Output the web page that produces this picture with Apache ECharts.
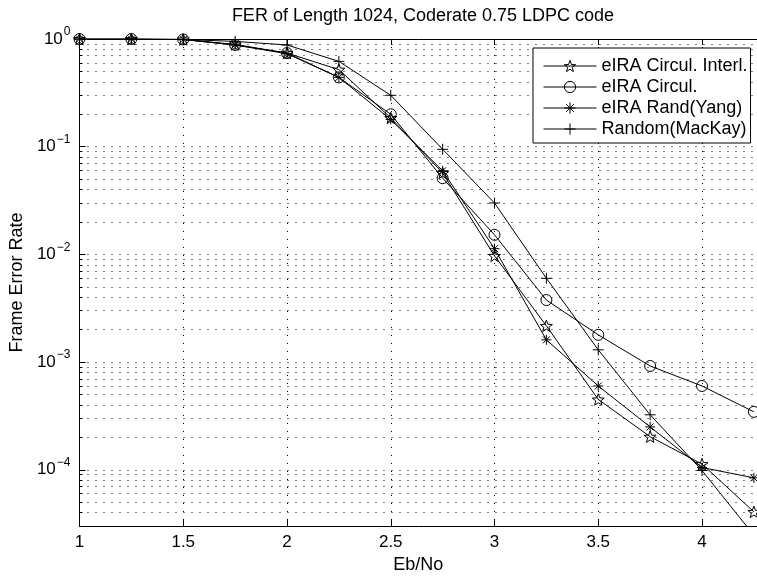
<!DOCTYPE html>
<html>
<head>
<meta charset="utf-8">
<script src="https://cdn.jsdelivr.net/npm/echarts@6/dist/echarts.min.js"></script>
<style>
  html, body { margin: 0; padding: 0; background: #fff; }
  #chart { width: 757px; height: 579px; }
</style>
</head>
<body>
<div id="chart"></div>
<script>
  // Eb/No points (dB)
  let ebNo = [1, 1.25, 1.5, 1.75, 2, 2.25, 2.5, 2.75, 3, 3.25, 3.5, 3.75, 4, 4.25]
  // frame error rate
  let circulInterl = [1, 1, 0.99, 0.89, 0.74, 0.52, 0.185, 0.057, 0.0097, 0.00217, 0.00045, 0.000203, 0.000113, 0.0000407]
  let circul = [1, 1, 0.99, 0.88, 0.74, 0.44, 0.2, 0.051, 0.0152, 0.00377, 0.00179, 0.00092, 0.0006, 0.000345]
  let randYang = [1, 1, 0.99, 0.88, 0.73, 0.44, 0.179, 0.0597, 0.0113, 0.00161, 0.0006, 0.00025, 0.000105, 0.0000842]
  let randMacKay = [1, 1, 0.99, 0.95, 0.88, 0.62, 0.3, 0.0946, 0.03, 0.006, 0.0013, 0.000324, 0.0000985, 0.0000247]

  let xTicks = [1, 1.5, 2, 2.5, 3, 3.5, 4]
  let yMajor = [1e-4, 1e-3, 1e-2, 1e-1, 1]
  let yMinor = []
  for (let e = -5; e < 0; e++) {
    for (let m = 2; m <= 9; m++) yMinor.push(m * Math.pow(10, e))
  }

  let font = 'Liberation Sans, Arial, Helvetica, sans-serif'
  let gridDots = { show: true, lineStyle: { color: '#000', width: 1, type: [1, 7] } }

  let starPath = 'path://M5,0L6.234,3.301L9.755,3.455L6.997,5.649L7.939,9.045L5,7.1L2.061,9.045L3.003,5.649L0.245,3.455L3.766,3.301Z'
  let asteriskPath = 'path://M5,0L5,10M0,5L10,5M1.5,1.5L8.5,8.5M8.5,1.5L1.5,8.5'
  let plusPath = 'path://M5,0L5,10M0,5L10,5'

  function pairs(ys) {
    return ebNo.map(function (x, i) { return [x, ys[i]] })
  }

  function line(name, ys, symbol, size) {
    return {
      name: name,
      type: 'line',
      data: pairs(ys),
      symbol: symbol,
      symbolSize: size,
      symbolKeepAspect: true,
      showAllSymbol: true,
      color: '#000',
      lineStyle: { color: '#000', width: 1 },
      itemStyle: { color: 'rgba(255,255,255,0)', borderColor: '#000', borderWidth: 1 },
      emphasis: { disabled: true },
      clip: true,
      z: 3
    }
  }

  let myChart = echarts.init(document.getElementById('chart'))
  let option = {
    animation: false,
    backgroundColor: '#fff',
    textStyle: { fontFamily: font, color: '#000' },
    title: {
      text: 'FER of Length 1024, Coderate 0.75 LDPC code',
      left: 423,
      top: 7,
      padding: 0,
      textAlign: 'center',
      textStyle: { fontFamily: font, fontSize: 18, fontWeight: 'normal', color: '#000' }
    },
    legend: {
      orient: 'vertical',
      left: 533,
      top: 48,
      padding: [9, 3, 5, 10],
      itemWidth: 53,
      itemHeight: 14,
      itemGap: 3,
      backgroundColor: '#fff',
      borderColor: '#000',
      borderWidth: 1,
      lineStyle: { width: 1, color: '#000' },
      itemStyle: { color: 'rgba(255,255,255,0)', borderColor: '#000', borderWidth: 1 },
      textStyle: { fontFamily: font, fontSize: 18, color: '#000' },
      data: ['eIRA Circul. Interl.', 'eIRA Circul.', 'eIRA Rand(Yang)', 'Random(MacKay)']
    },
    grid: { left: 77, right: 0, top: 39, bottom: 51 },
    xAxis: [{
      type: 'value',
      min: 1,
      max: 4.265,
      position: 'bottom',
      name: 'Eb/No',
      nameLocation: 'middle',
      nameGap: 28,
      nameTextStyle: { fontFamily: font, fontSize: 18, color: '#000' },
      axisLine: { lineStyle: { color: '#000', width: 1 } },
      axisTick: { inside: true, length: 6, customValues: xTicks, lineStyle: { color: '#000' } },
      axisLabel: { customValues: xTicks, margin: 8, fontFamily: font, fontSize: 17, color: '#000' },
      splitLine: gridDots
    }, {
      type: 'value',
      min: 1,
      max: 4.265,
      position: 'top',
      axisLine: { lineStyle: { color: '#000', width: 1 } },
      axisTick: { inside: true, length: 6, customValues: xTicks, lineStyle: { color: '#000' } },
      axisLabel: { show: false },
      splitLine: { show: false }
    }],
    yAxis: [{
      type: 'log',
      logBase: 10,
      min: 3e-5,
      max: 1,
      name: 'Frame Error Rate',
      nameLocation: 'middle',
      nameGap: 48,
      nameRotate: 90,
      nameTextStyle: { fontFamily: font, fontSize: 18, color: '#000' },
      axisLine: { show: true, lineStyle: { color: '#000', width: 1 } },
      axisTick: { inside: true, length: 3, customValues: yMinor.concat(yMajor), lineStyle: { color: '#000' } },
      axisLabel: {
        customValues: yMajor,
        margin: 9,
        formatter: function (v) {
          let e = Math.round(Math.log10(v))
          return '{b|10}{s|' + String(e).replace('-', '\u2212') + '}'
        },
        rich: {
          b: { fontFamily: font, fontSize: 17, lineHeight: 17, color: '#000' },
          s: { fontFamily: font, fontSize: 12, lineHeight: 12, color: '#000', padding: [0, 0, 14, 1] }
        }
      },
      splitLine: gridDots
    }, {
      type: 'log',
      logBase: 10,
      min: 3e-5,
      max: 1,
      position: 'left',
      axisLine: { show: false },
      axisTick: { inside: true, length: 6, customValues: yMajor, lineStyle: { color: '#000' } },
      axisLabel: { show: false },
      splitLine: { show: false }
    }],
    series: [
      line('eIRA Circul. Interl.', circulInterl, starPath, 12),
      line('eIRA Circul.', circul, 'circle', 11),
      line('eIRA Rand(Yang)', randYang, asteriskPath, 10),
      line('Random(MacKay)', randMacKay, plusPath, 11)
    ]
  }
  myChart.setOption(option)
</script>
</body>
</html>
